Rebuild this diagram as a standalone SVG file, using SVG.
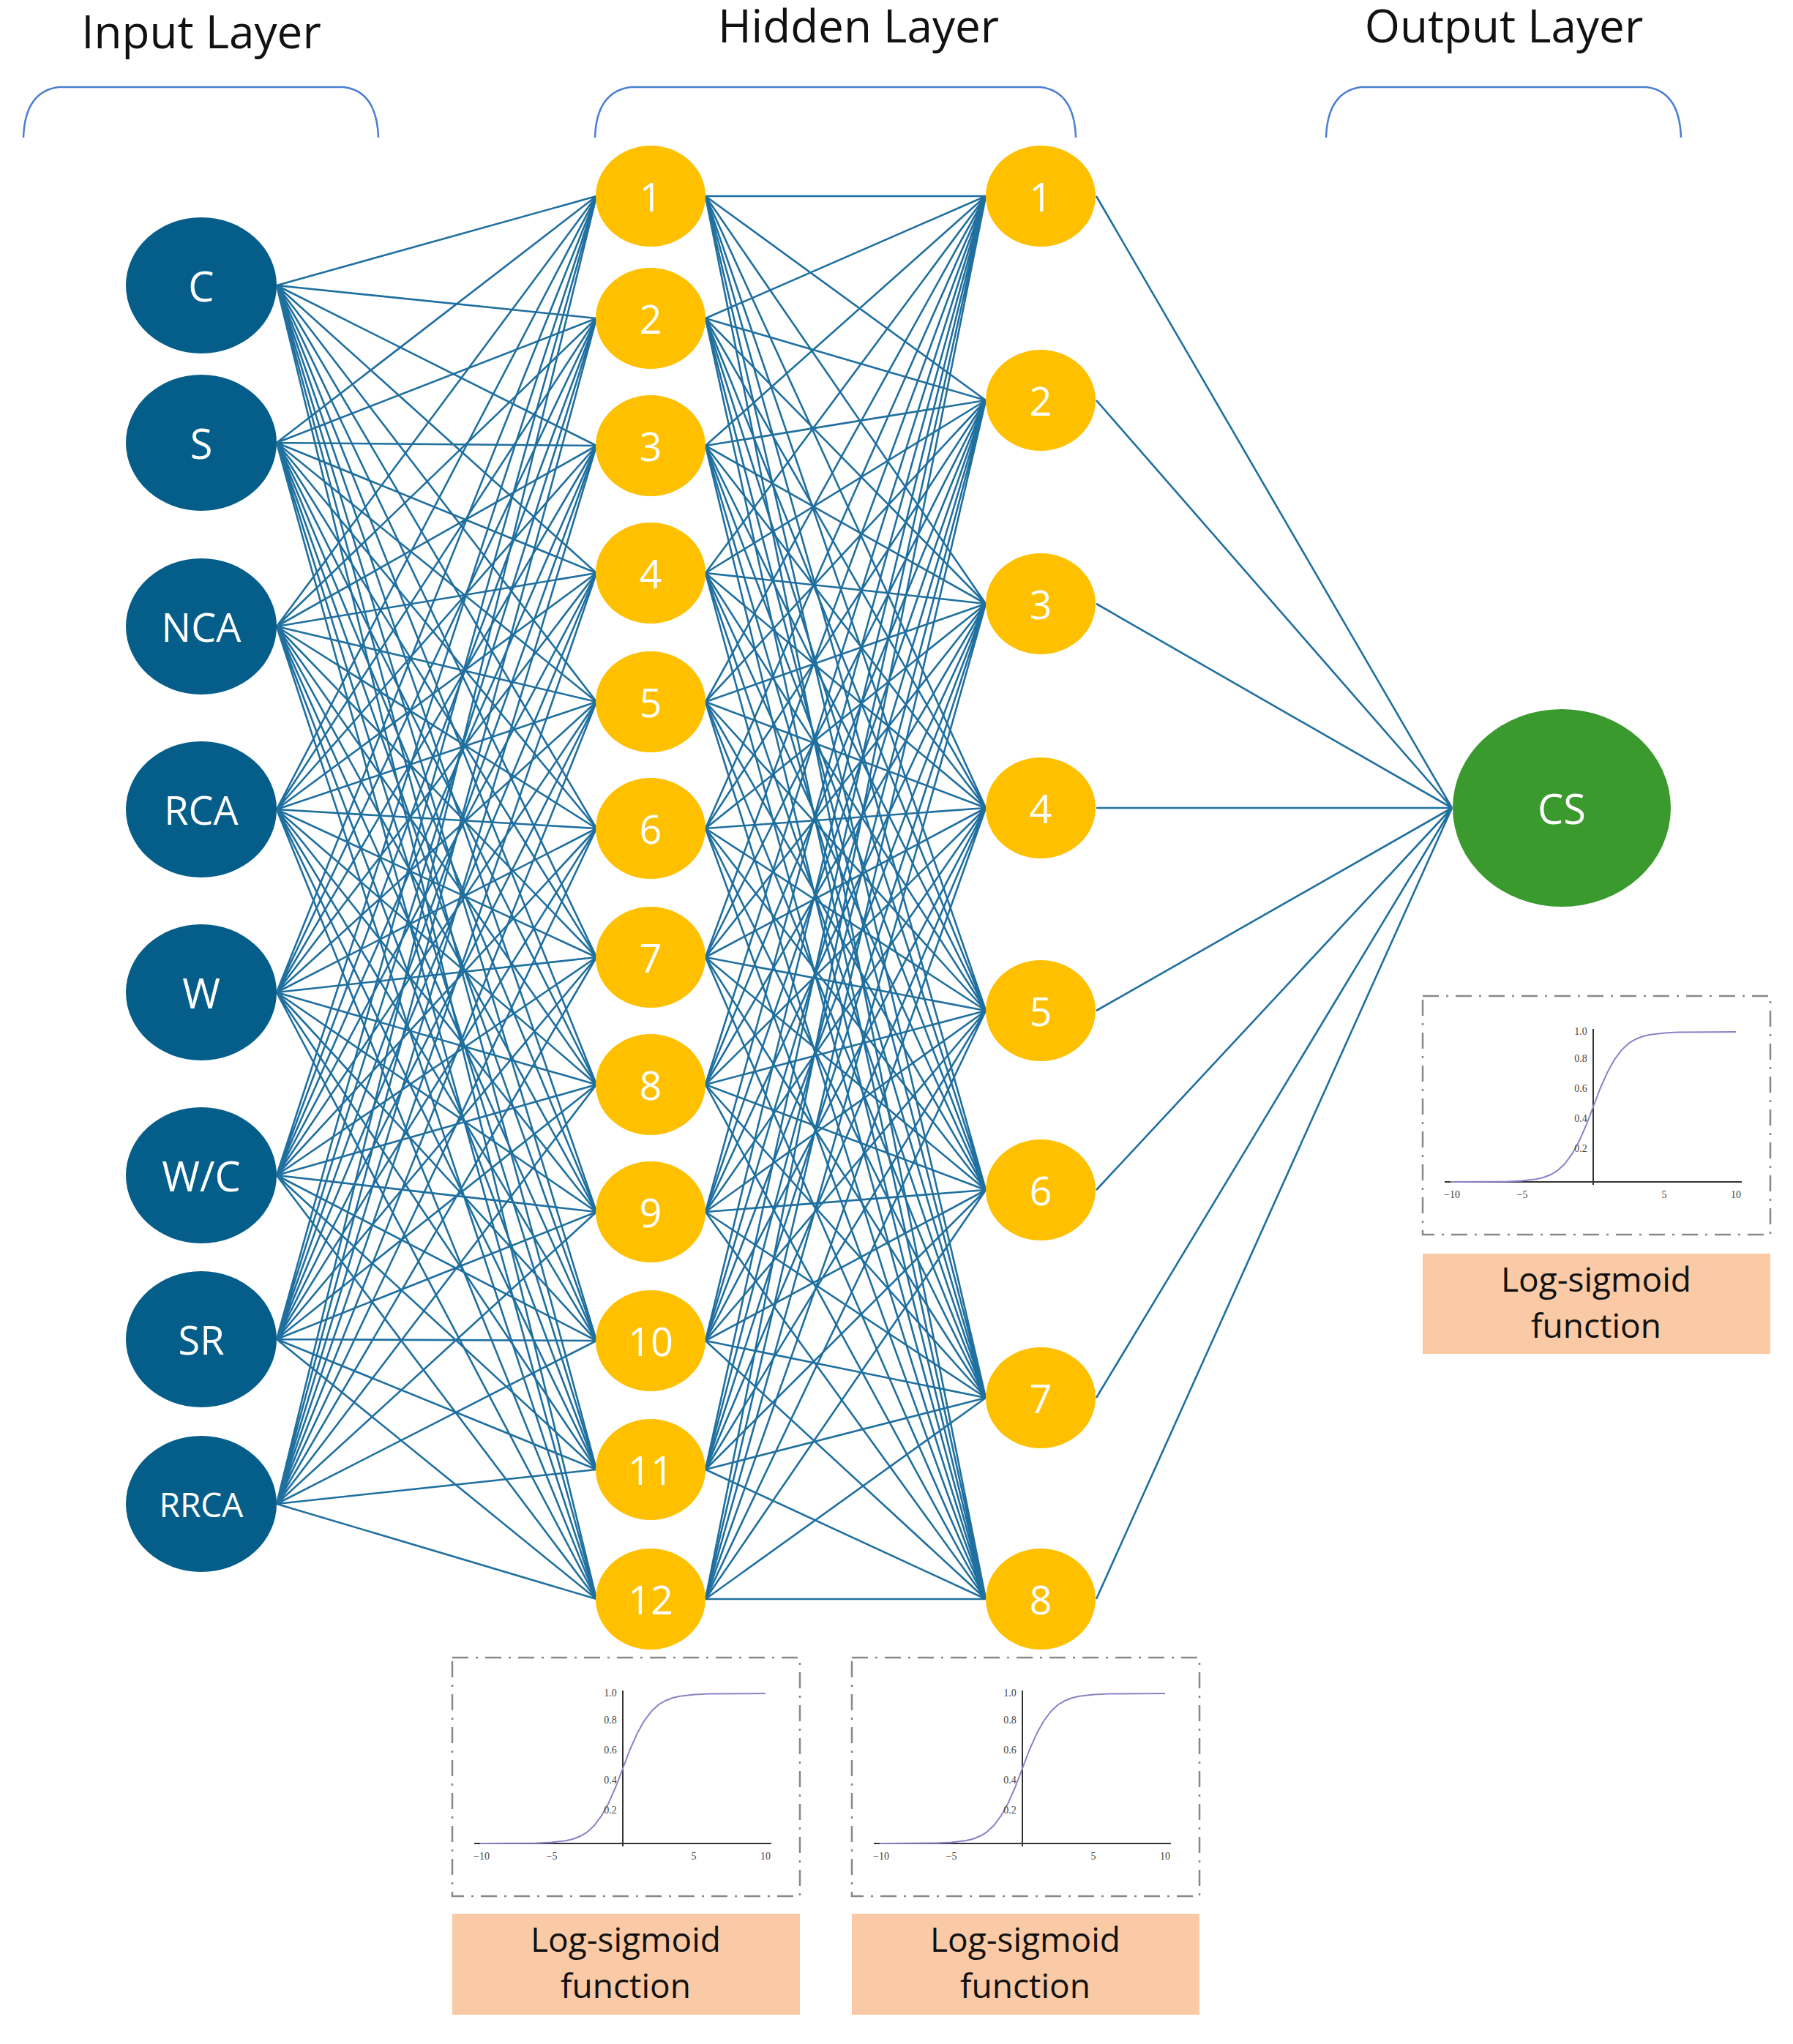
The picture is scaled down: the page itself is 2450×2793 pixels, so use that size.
<svg xmlns="http://www.w3.org/2000/svg" xmlns:xlink="http://www.w3.org/1999/xlink" width="2450" height="2793" viewBox="0 0 2450 2793">
<style>
.e{stroke:#1f6f9f;stroke-width:2.6;fill:none}
.in{fill:#055e8a}
.hd{fill:#ffc000}
.out{fill:#3a9a2e}
.nl{font-family:"Open Sans","Liberation Sans",sans-serif;fill:#fff;text-anchor:middle;dominant-baseline:central}
.ttl{font-family:"Open Sans","Liberation Sans",sans-serif;font-size:62px;fill:#111;text-anchor:middle}
.br{stroke:#4a7fd0;stroke-width:2.5;fill:none}
.lbl{fill:#f9caa5}
.lt{font-family:"Open Sans","Liberation Sans",sans-serif;font-size:46px;fill:#111;text-anchor:middle}
.tk{font-family:"Liberation Serif",serif;font-size:14px;fill:#444;text-anchor:middle}
</style>
<defs>
<g id="plot">
<rect x="0" y="0" width="475" height="326" fill="#fff" stroke="#888" stroke-width="2.5" stroke-dasharray="22,10,3,10"/>
<line x1="30" y1="254" x2="436" y2="254" stroke="#333" stroke-width="2"/>
<line x1="233" y1="45" x2="233" y2="258" stroke="#333" stroke-width="2"/>
<path d="M38 254 L116 253.5 L135.5 252.6 L155 250.3 L164.8 248 L174.5 244.3 L184.2 238.6 L194 229.5 L203.7 216.4 L213.5 198.9 L223.2 177 L233 151.5 L242.7 126 L252.5 104.1 L262.2 86.6 L272 73.5 L281.7 64.4 L291.5 58.7 L301.2 55 L311 52.7 L330.5 50.4 L350 49.5 L428 49" fill="none" stroke="#8a82c8" stroke-width="2" stroke-linejoin="round"/>
<text class="tk" x="40" y="276">−10</text><text class="tk" x="136" y="276">−5</text><text class="tk" x="330" y="276">5</text><text class="tk" x="428" y="276">10</text>
<text class="tk" x="216" y="213">0.2</text><text class="tk" x="216" y="172">0.4</text><text class="tk" x="216" y="131">0.6</text><text class="tk" x="216" y="90">0.8</text><text class="tk" x="216" y="53">1.0</text>
</g>
</defs>
<rect width="2450" height="2793" fill="#fff"/>
<g id="titles">
<text class="ttl" x="275" y="66">Input Layer</text>
<text class="ttl" x="1173" y="58">Hidden Layer</text>
<text class="ttl" x="2055" y="58">Output Layer</text>
<path class="br" d="M32 188 Q34 125 80 119 L470 119 Q515 125 517 188"/>
<path class="br" d="M813 188 Q815 125 862 119 L1422 119 Q1468 125 1470 188"/>
<path class="br" d="M1812 188 Q1814 125 1860 119 L2250 119 Q2295 125 2297 188"/>
</g>
<g id="connectors">
<path class="e" d="M378 390L815 268M378 390L815 435M378 390L815 609M378 390L815 783M378 390L815 959M378 390L815 1132M378 390L815 1308M378 390L815 1482M378 390L815 1656M378 390L815 1832M378 390L815 2008M378 390L815 2185"/>
<path class="e" d="M378 605L815 268M378 605L815 435M378 605L815 609M378 605L815 783M378 605L815 959M378 605L815 1132M378 605L815 1308M378 605L815 1482M378 605L815 1656M378 605L815 1832M378 605L815 2008M378 605L815 2185"/>
<path class="e" d="M378 856L815 268M378 856L815 435M378 856L815 609M378 856L815 783M378 856L815 959M378 856L815 1132M378 856L815 1308M378 856L815 1482M378 856L815 1656M378 856L815 1832M378 856L815 2008M378 856L815 2185"/>
<path class="e" d="M378 1106L815 268M378 1106L815 435M378 1106L815 609M378 1106L815 783M378 1106L815 959M378 1106L815 1132M378 1106L815 1308M378 1106L815 1482M378 1106L815 1656M378 1106L815 1832M378 1106L815 2008M378 1106L815 2185"/>
<path class="e" d="M378 1356L815 268M378 1356L815 435M378 1356L815 609M378 1356L815 783M378 1356L815 959M378 1356L815 1132M378 1356L815 1308M378 1356L815 1482M378 1356L815 1656M378 1356L815 1832M378 1356L815 2008M378 1356L815 2185"/>
<path class="e" d="M378 1606L815 268M378 1606L815 435M378 1606L815 609M378 1606L815 783M378 1606L815 959M378 1606L815 1132M378 1606L815 1308M378 1606L815 1482M378 1606L815 1656M378 1606L815 1832M378 1606L815 2008M378 1606L815 2185"/>
<path class="e" d="M378 1830L815 268M378 1830L815 435M378 1830L815 609M378 1830L815 783M378 1830L815 959M378 1830L815 1132M378 1830L815 1308M378 1830L815 1482M378 1830L815 1656M378 1830L815 1832M378 1830L815 2008M378 1830L815 2185"/>
<path class="e" d="M378 2055L815 268M378 2055L815 435M378 2055L815 609M378 2055L815 783M378 2055L815 959M378 2055L815 1132M378 2055L815 1308M378 2055L815 1482M378 2055L815 1656M378 2055L815 1832M378 2055L815 2008M378 2055L815 2185"/>
<path class="e" d="M1347 268L964 268M1347 268L964 435M1347 268L964 609M1347 268L964 783M1347 268L964 959M1347 268L964 1132M1347 268L964 1308M1347 268L964 1482M1347 268L964 1656M1347 268L964 1832M1347 268L964 2008M1347 268L964 2185"/>
<path class="e" d="M1347 547L964 268M1347 547L964 435M1347 547L964 609M1347 547L964 783M1347 547L964 959M1347 547L964 1132M1347 547L964 1308M1347 547L964 1482M1347 547L964 1656M1347 547L964 1832M1347 547L964 2008M1347 547L964 2185"/>
<path class="e" d="M1347 825L964 268M1347 825L964 435M1347 825L964 609M1347 825L964 783M1347 825L964 959M1347 825L964 1132M1347 825L964 1308M1347 825L964 1482M1347 825L964 1656M1347 825L964 1832M1347 825L964 2008M1347 825L964 2185"/>
<path class="e" d="M1347 1104L964 268M1347 1104L964 435M1347 1104L964 609M1347 1104L964 783M1347 1104L964 959M1347 1104L964 1132M1347 1104L964 1308M1347 1104L964 1482M1347 1104L964 1656M1347 1104L964 1832M1347 1104L964 2008M1347 1104L964 2185"/>
<path class="e" d="M1347 1381L964 268M1347 1381L964 435M1347 1381L964 609M1347 1381L964 783M1347 1381L964 959M1347 1381L964 1132M1347 1381L964 1308M1347 1381L964 1482M1347 1381L964 1656M1347 1381L964 1832M1347 1381L964 2008M1347 1381L964 2185"/>
<path class="e" d="M1347 1626L964 268M1347 1626L964 435M1347 1626L964 609M1347 1626L964 783M1347 1626L964 959M1347 1626L964 1132M1347 1626L964 1308M1347 1626L964 1482M1347 1626L964 1656M1347 1626L964 1832M1347 1626L964 2008M1347 1626L964 2185"/>
<path class="e" d="M1347 1910L964 268M1347 1910L964 435M1347 1910L964 609M1347 1910L964 783M1347 1910L964 959M1347 1910L964 1132M1347 1910L964 1308M1347 1910L964 1482M1347 1910L964 1656M1347 1910L964 1832M1347 1910L964 2008M1347 1910L964 2185"/>
<path class="e" d="M1347 2185L964 268M1347 2185L964 435M1347 2185L964 609M1347 2185L964 783M1347 2185L964 959M1347 2185L964 1132M1347 2185L964 1308M1347 2185L964 1482M1347 2185L964 1656M1347 2185L964 1832M1347 2185L964 2008M1347 2185L964 2185"/>
<path class="e" d="M1984 1104L1498 268M1984 1104L1498 547M1984 1104L1498 825M1984 1104L1498 1104M1984 1104L1498 1381M1984 1104L1498 1626M1984 1104L1498 1910M1984 1104L1498 2185"/>
</g>
<g id="input-nodes">
<g id="n-C"><ellipse class="in" cx="275" cy="390" rx="103" ry="93"/><text class="nl" x="275" y="390" font-size="56">C</text></g>
<g id="n-S"><ellipse class="in" cx="275" cy="605" rx="103" ry="93"/><text class="nl" x="275" y="605" font-size="56">S</text></g>
<g id="n-NCA"><ellipse class="in" cx="275" cy="856" rx="103" ry="93"/><text class="nl" x="275" y="856" font-size="54">NCA</text></g>
<g id="n-RCA"><ellipse class="in" cx="275" cy="1106" rx="103" ry="93"/><text class="nl" x="275" y="1106" font-size="54">RCA</text></g>
<g id="n-W"><ellipse class="in" cx="275" cy="1356" rx="103" ry="93"/><text class="nl" x="275" y="1356" font-size="56">W</text></g>
<g id="n-WC"><ellipse class="in" cx="275" cy="1606" rx="103" ry="93"/><text class="nl" x="275" y="1606" font-size="56">W/C</text></g>
<g id="n-SR"><ellipse class="in" cx="275" cy="1830" rx="103" ry="93"/><text class="nl" x="275" y="1830" font-size="54">SR</text></g>
<g id="n-RRCA"><ellipse class="in" cx="275" cy="2055" rx="103" ry="93"/><text class="nl" x="275" y="2055" font-size="46">RRCA</text></g>
</g>
<g id="hidden1">
<g id="h1-1"><ellipse class="hd" cx="889" cy="268" rx="75" ry="69"/><text class="nl" x="889" y="268" font-size="54">1</text></g>
<g id="h1-2"><ellipse class="hd" cx="889" cy="435" rx="75" ry="69"/><text class="nl" x="889" y="435" font-size="54">2</text></g>
<g id="h1-3"><ellipse class="hd" cx="889" cy="609" rx="75" ry="69"/><text class="nl" x="889" y="609" font-size="54">3</text></g>
<g id="h1-4"><ellipse class="hd" cx="889" cy="783" rx="75" ry="69"/><text class="nl" x="889" y="783" font-size="54">4</text></g>
<g id="h1-5"><ellipse class="hd" cx="889" cy="959" rx="75" ry="69"/><text class="nl" x="889" y="959" font-size="54">5</text></g>
<g id="h1-6"><ellipse class="hd" cx="889" cy="1132" rx="75" ry="69"/><text class="nl" x="889" y="1132" font-size="54">6</text></g>
<g id="h1-7"><ellipse class="hd" cx="889" cy="1308" rx="75" ry="69"/><text class="nl" x="889" y="1308" font-size="54">7</text></g>
<g id="h1-8"><ellipse class="hd" cx="889" cy="1482" rx="75" ry="69"/><text class="nl" x="889" y="1482" font-size="54">8</text></g>
<g id="h1-9"><ellipse class="hd" cx="889" cy="1656" rx="75" ry="69"/><text class="nl" x="889" y="1656" font-size="54">9</text></g>
<g id="h1-10"><ellipse class="hd" cx="889" cy="1832" rx="75" ry="69"/><text class="nl" x="889" y="1832" font-size="54">10</text></g>
<g id="h1-11"><ellipse class="hd" cx="889" cy="2008" rx="75" ry="69"/><text class="nl" x="889" y="2008" font-size="54">11</text></g>
<g id="h1-12"><ellipse class="hd" cx="889" cy="2185" rx="75" ry="69"/><text class="nl" x="889" y="2185" font-size="54">12</text></g>
</g>
<g id="hidden2">
<g id="h2-1"><ellipse class="hd" cx="1422" cy="268" rx="75" ry="69"/><text class="nl" x="1422" y="268" font-size="54">1</text></g>
<g id="h2-2"><ellipse class="hd" cx="1422" cy="547" rx="75" ry="69"/><text class="nl" x="1422" y="547" font-size="54">2</text></g>
<g id="h2-3"><ellipse class="hd" cx="1422" cy="825" rx="75" ry="69"/><text class="nl" x="1422" y="825" font-size="54">3</text></g>
<g id="h2-4"><ellipse class="hd" cx="1422" cy="1104" rx="75" ry="69"/><text class="nl" x="1422" y="1104" font-size="54">4</text></g>
<g id="h2-5"><ellipse class="hd" cx="1422" cy="1381" rx="75" ry="69"/><text class="nl" x="1422" y="1381" font-size="54">5</text></g>
<g id="h2-6"><ellipse class="hd" cx="1422" cy="1626" rx="75" ry="69"/><text class="nl" x="1422" y="1626" font-size="54">6</text></g>
<g id="h2-7"><ellipse class="hd" cx="1422" cy="1910" rx="75" ry="69"/><text class="nl" x="1422" y="1910" font-size="54">7</text></g>
<g id="h2-8"><ellipse class="hd" cx="1422" cy="2185" rx="75" ry="69"/><text class="nl" x="1422" y="2185" font-size="54">8</text></g>
</g>
<g id="output-CS"><ellipse class="out" cx="2134" cy="1104" rx="149" ry="135"/><text class="nl" x="2134" y="1104" font-size="56">CS</text></g>
<g id="sigmoid-out">
<use xlink:href="#plot" transform="translate(1944,1361)"/>
<rect class="lbl" x="1944" y="1713" width="475" height="137"/>
<text class="lt" x="2181" y="1765">Log-sigmoid</text><text class="lt" x="2181" y="1828">function</text>
</g>
<g id="sigmoid-h1">
<use xlink:href="#plot" transform="translate(618,2265)"/>
<rect class="lbl" x="618" y="2615" width="475" height="138"/>
<text class="lt" x="855" y="2667">Log-sigmoid</text><text class="lt" x="855" y="2730">function</text>
</g>
<g id="sigmoid-h2">
<use xlink:href="#plot" transform="translate(1164,2265)"/>
<rect class="lbl" x="1164" y="2615" width="475" height="138"/>
<text class="lt" x="1401" y="2667">Log-sigmoid</text><text class="lt" x="1401" y="2730">function</text>
</g>
</svg>
